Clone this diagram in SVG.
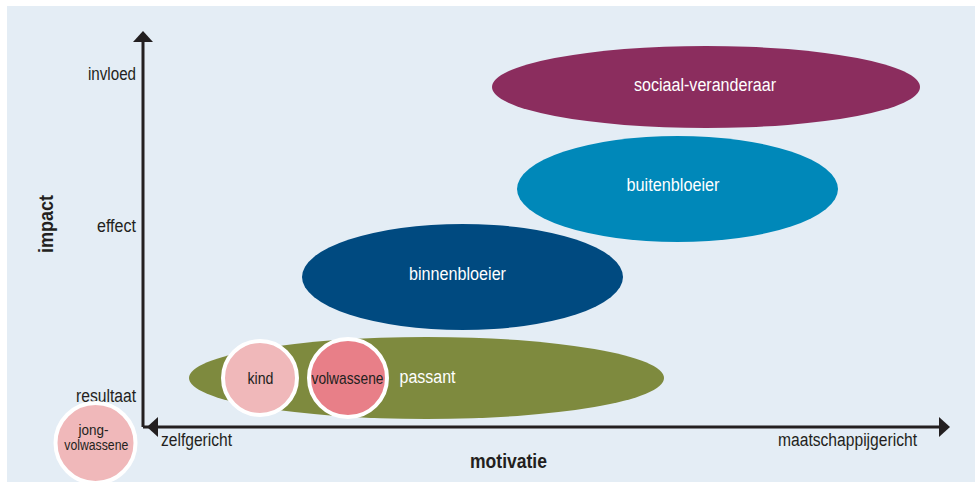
<svg xmlns="http://www.w3.org/2000/svg" width="975" height="483" viewBox="0 0 975 483">
<style>
text{font-family:"Liberation Sans",Arial,sans-serif;}
.ax{font-size:18px;fill:#231f20;}
.ttl{font-size:20px;font-weight:bold;fill:#231f20;}
.lbl{font-size:18px;fill:#ffffff;text-anchor:middle;}
.cl{font-size:17px;fill:#231f20;text-anchor:middle;}
.cs{font-size:14px;fill:#231f20;text-anchor:middle;}
.circ{stroke:#ffffff;stroke-width:4;}
.axis{stroke:#231f20;stroke-width:3;fill:none;}
</style>
<rect x="7" y="6" width="968" height="476" fill="#e4edf5"/>
<g id="connectors">
<line class="axis" x1="143" y1="427" x2="143" y2="42"/>
<path d="M143,31 L153,42 L133,42 Z" fill="#231f20"/>
<line class="axis" x1="143" y1="427" x2="939" y2="427"/>
<path d="M147,427 L158,417 L158,437 Z" fill="#231f20"/>
<path d="M950,427 L939,417 L939,437 Z" fill="#231f20"/>
</g>
<g id="axis-labels">
<text class="ax" x="136" y="80" text-anchor="end" textLength="48" lengthAdjust="spacingAndGlyphs">invloed</text>
<text class="ax" x="136" y="232" text-anchor="end" textLength="39" lengthAdjust="spacingAndGlyphs">effect</text>
<text class="ax" x="136" y="402" text-anchor="end" textLength="60" lengthAdjust="spacingAndGlyphs">resultaat</text>
<text class="ax" x="161" y="446" textLength="71" lengthAdjust="spacingAndGlyphs">zelfgericht</text>
<text class="ax" x="778" y="446" textLength="139" lengthAdjust="spacingAndGlyphs">maatschappijgericht</text>
<text class="ttl" x="470" y="468" textLength="77" lengthAdjust="spacingAndGlyphs">motivatie</text>
<text class="ttl" x="0" y="0" transform="translate(53,253) rotate(-90)" textLength="58" lengthAdjust="spacingAndGlyphs">impact</text>
</g>
<g id="sociaal-veranderaar">
<ellipse cx="706" cy="87" rx="214" ry="41" fill="#8b2d5e"/>
<text class="lbl" x="705" y="91" textLength="142" lengthAdjust="spacingAndGlyphs">sociaal-veranderaar</text>
</g>
<g id="buitenbloeier">
<ellipse cx="677.5" cy="189" rx="160.5" ry="53" fill="#0088b9"/>
<text class="lbl" x="673" y="191" textLength="93" lengthAdjust="spacingAndGlyphs">buitenbloeier</text>
</g>
<g id="binnenbloeier">
<ellipse cx="462.5" cy="277" rx="160.5" ry="53" fill="#004a80"/>
<text class="lbl" x="457.5" y="280" textLength="97" lengthAdjust="spacingAndGlyphs">binnenbloeier</text>
</g>
<g id="passant">
<ellipse cx="426.5" cy="378" rx="237.5" ry="41" fill="#7e8a3e"/>
<text class="lbl" x="427.5" y="383" textLength="56" lengthAdjust="spacingAndGlyphs">passant</text>
</g>
<g id="kind">
<circle class="circ" cx="260" cy="378" r="37" fill="#f0b8ba"/>
<text class="cl" x="260.5" y="384" textLength="26" lengthAdjust="spacingAndGlyphs">kind</text>
</g>
<g id="volwassene">
<circle class="circ" cx="348" cy="378" r="39" fill="#e87f88"/>
<text class="cl" x="347.5" y="384" textLength="72" lengthAdjust="spacingAndGlyphs">volwassene</text>
</g>
<g id="jong-volwassene">
<circle class="circ" cx="95.5" cy="443" r="40" fill="#f0b8ba"/>
<text class="cs" x="93.5" y="435" textLength="30" lengthAdjust="spacingAndGlyphs">jong-</text>
<text class="cs" x="96.3" y="450" textLength="64" lengthAdjust="spacingAndGlyphs">volwassene</text>
</g>
</svg>
